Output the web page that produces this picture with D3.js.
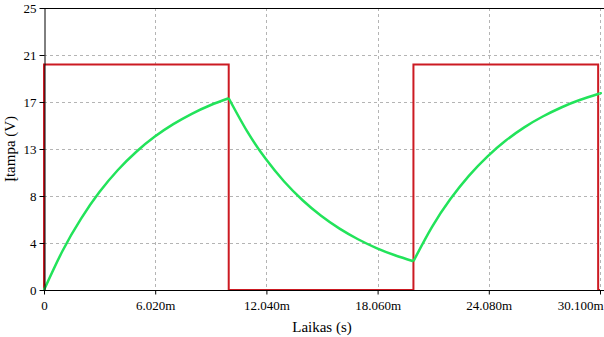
<!DOCTYPE html>
<meta charset="utf-8">
<style>
body { margin: 0; background: #fff; }
svg { display: block; font-family: "Liberation Serif", "Times New Roman", serif; }
.grid line { stroke: #b4b4b4; stroke-width: 1px; stroke-dasharray: 3,3; }
.axis path, .axis line { stroke: #000; }
.axis text { font-size: 13px; fill: #000; font-family: "Liberation Serif", serif; }
.square { fill: none; stroke: #cc1a22; stroke-width: 2px; }
.cap { fill: none; stroke: #22e35a; stroke-width: 2.5px; }
.title { font-size: 15px; fill: #000; }
</style>
<div id="chart"></div>
<script src="https://d3js.org/d3.v7.min.js"></script>
<script>
// time axis in ms, values in V
var xTicks = [0, 6.02, 12.04, 18.06, 24.08, 30.1];
var xTickLabels = ["0", "6.020m", "12.040m", "18.060m", "24.080m", "30.100m"];
var yTicks = [0, 4.1667, 8.3333, 12.5, 16.6667, 20.8333, 25];
var yTickLabels = ["0", "4", "8", "13", "17", "21", "25"];

// square wave source
var squareTimes = [0, 0, 10, 20, 30, 30.1];
var squareValues = [0, 20, 0, 20, 0, 0];

// capacitor voltage (charge, discharge, charge)
var chargeTimes = [0, 1, 2, 3, 4, 5, 6, 7, 8, 9, 10];
var chargeValues = [0, 3.46, 6.31, 8.68, 10.64, 12.26, 13.6, 14.7, 15.62, 16.38, 17.0];
var dischargeTimes = [10, 11, 12, 13, 14, 15, 16, 17, 18, 19, 20];
var dischargeValues = [17.0, 14.06, 11.63, 9.62, 7.96, 6.58, 5.44, 4.5, 3.72, 3.08, 2.55];
var rechargeTimes = [20, 21, 22, 23, 24, 25, 26, 27, 28, 29, 30, 30.1];
var rechargeValues = [2.55, 5.57, 8.06, 10.12, 11.83, 13.25, 14.42, 15.38, 16.18, 16.84, 17.38, 17.43];

var width = 604, height = 337;
var pLeft = 44, pRight = 600, pTop = 8, pBottom = 290;

var svg = d3.select("#chart").append("svg")
    .attr("width", width)
    .attr("height", height);

var x = d3.scaleLinear().domain([0, 30.1]).range([pLeft, pRight]);
var y = d3.scaleLinear().domain([0, 25]).range([pBottom, pTop]);

// grid
var grid = svg.append("g").attr("class", "grid");
grid.selectAll(".gx")
    .data(xTicks.slice(1))
    .enter().append("line")
    .attr("x1", function(d) { return Math.round(x(d)) + 0.5; })
    .attr("x2", function(d) { return Math.round(x(d)) + 0.5; })
    .attr("y1", pTop).attr("y2", pBottom);
grid.selectAll(".gy")
    .data(yTicks.slice(1, -1))
    .enter().append("line")
    .attr("x1", pLeft).attr("x2", pRight)
    .attr("y1", function(d) { return Math.round(y(d)) + 0.5; })
    .attr("y2", function(d) { return Math.round(y(d)) + 0.5; });

// top border
svg.append("line")
    .attr("x1", pLeft).attr("x2", width)
    .attr("y1", pTop + 0.5).attr("y2", pTop + 0.5)
    .attr("stroke", "#000");

// square wave
var sq = squareTimes.map(function(t, i) { return [t, squareValues[i]]; });
svg.append("path")
    .datum(sq)
    .attr("class", "square")
    .attr("d", d3.line()
        .x(function(d) { return x(d[0]); })
        .y(function(d) { return y(d[1]); })
        .curve(d3.curveStepAfter));

// capacitor voltage, one smooth piece per half period
var line = d3.line()
    .x(function(d) { return x(d[0]); })
    .y(function(d) { return y(d[1]); })
    .curve(d3.curveNatural);
[[chargeTimes, chargeValues], [dischargeTimes, dischargeValues], [rechargeTimes, rechargeValues]]
  .forEach(function(s) {
    var pts = s[0].map(function(t, i) { return [t, s[1][i]]; });
    svg.append("path").datum(pts).attr("class", "cap").attr("d", line);
  });

// axes
var xAxis = svg.append("g")
    .attr("class", "axis")
    .attr("transform", "translate(0," + (pBottom + 0.5) + ")")
    .call(d3.axisBottom(x).tickValues(xTicks).tickSize(4).tickSizeOuter(0)
        .tickFormat(function(d, i) { return xTickLabels[i]; }));
xAxis.select(".domain").attr("d", "M" + pLeft + ",0H" + width);
xAxis.selectAll("text").attr("dy", "0.95em");
// last label is pushed inside the window
xAxis.selectAll(".tick").filter(function(d, i) { return i === xTicks.length - 1; })
    .select("text").attr("text-anchor", "end").attr("x", width - 1 - x(30.1));

svg.append("g")
    .attr("class", "axis")
    .attr("transform", "translate(" + (pLeft + 0.5) + ",0)")
    .call(d3.axisLeft(y).tickValues(yTicks).tickSize(5).tickSizeOuter(0)
        .tickFormat(function(d, i) { return yTickLabels[i]; }))
    .selectAll("text").attr("x", -8);

// titles
svg.append("text")
    .attr("class", "title")
    .attr("text-anchor", "middle")
    .attr("x", (pLeft + pRight) / 2)
    .attr("y", 332)
    .text("Laikas (s)");
svg.append("text")
    .attr("class", "title")
    .attr("text-anchor", "middle")
    .attr("transform", "translate(15," + ((pTop + pBottom) / 2) + ")rotate(-90)")
    .text("Įtampa (V)");
</script>
